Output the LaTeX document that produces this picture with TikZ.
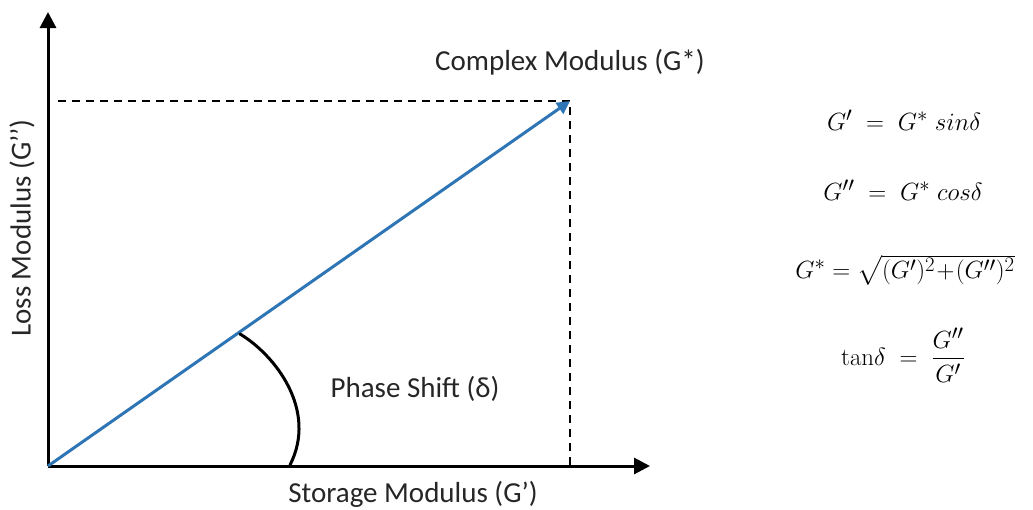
\documentclass[tikz,border=0pt]{standalone}
\usepackage{amsmath}
\usepackage[no-math]{fontspec}
\setmainfont{Carlito}
\usetikzlibrary{arrows.meta}
\definecolor{vecblue}{RGB}{46,117,182}
\definecolor{txtgray}{RGB}{38,38,38}
\tikzset{
  axis/.style={line width=3pt,-{Triangle[width=16pt,length=16pt]}},
  guide/.style={line width=2pt,dash pattern=on 8pt off 6pt},
  vector/.style={line width=3pt,vecblue,-{Triangle[width=13pt,length=13pt]}},
  anglearc/.style={line width=3pt,line cap=round},
  lbl/.style={font=\fontsize{29}{34}\selectfont,text=txtgray,inner sep=0pt},
  eq/.style={font=\fontsize{27.5}{32}\selectfont,inner sep=0pt}
}
\begin{document}
\begin{tikzpicture}[x=1pt,y=-1pt]
  \useasboundingbox (0,0) rectangle (1033,509);
  % reference points
  \coordinate (O) at (48,466);
  \coordinate (ytip) at (48,12);
  \coordinate (xtip) at (650,466);
  \coordinate (P) at (570,101);
  \coordinate (Py) at (58,101);
  \coordinate (Px) at (570,466);
  \coordinate (a0) at (240,334);
  \coordinate (a1) at (290,465);
  % projections of the modulus vector
  \draw[guide] (Py) -- (P) -- (Px);
  % axes
  \draw[axis] (O) -- (ytip);
  \draw[axis] (O) -- (xtip);
  % complex modulus vector
  \draw[vector] (O) -- (P);
  % phase angle
  \draw[anglearc] (a0) .. controls (275,355) and (318,410) .. (a1);
  % labels
  \node[lbl] (cm) at (570,62) {Complex Modulus (G*)};
  \node[lbl,rotate=90] (lm) at (22,228) {Loss Modulus (G’’)};
  \node[lbl] (ps) at (415,389) {Phase Shift (δ)};
  \node[lbl] (sm) at (413,494) {Storage Modulus (G’)};
  % relations
  \node[eq] (e1) at (904,120) {$G' \;=\; G^{*}\;sin\delta$};
  \node[eq] (e2) at (903,190) {$G'' \;=\; G^{*}\;cos\delta$};
  \node[eq] (e3) at (905,270) {$G^{*} = \sqrt{(G')^2\!+\!(G'')^2}$};
  \node[eq] (e4) at (903,355) {$\mathrm{tan}\delta \;=\; \dfrac{G''}{G'}$};
\end{tikzpicture}
\end{document}
